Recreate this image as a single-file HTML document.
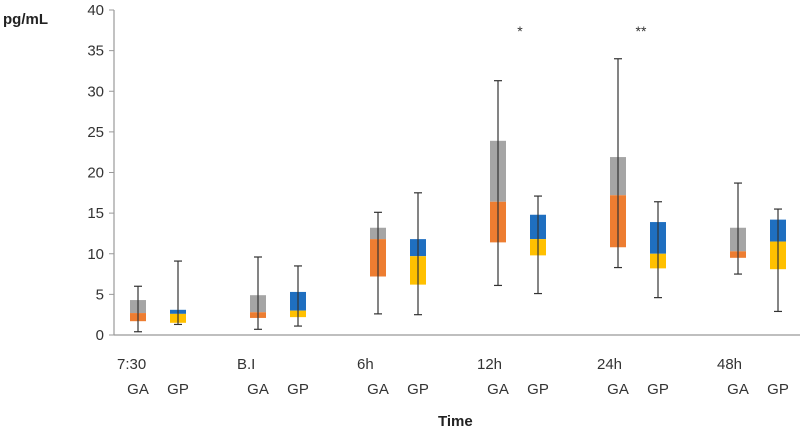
<!DOCTYPE html>
<html><head><meta charset="utf-8"><style>
body{margin:0;background:#fff;}
svg text{font-family:"Liberation Sans",sans-serif;}
</style></head><body>
<svg id="chart" width="800" height="433">
<text x="3" y="24" font-size="15" font-weight="bold" fill="#222">pg/mL</text>
<text x="438" y="426" font-size="15" font-weight="bold" fill="#222">Time</text>
<g id="axes"></g><g id="boxes"></g><g id="labels"></g>
</svg>
<script>
const groups=["7:30","B.I","6h","12h","24h","48h"];
const series=["GA","GP"];
const whiskerHigh=[[6.0,9.1],[9.6,8.5],[15.1,17.5],[31.3,17.1],[34.0,16.4],[18.7,15.5]];
const q3=[[4.3,3.1],[4.9,5.3],[13.2,11.8],[23.9,14.8],[21.9,13.9],[13.2,14.2]];
const medians=[[2.7,2.6],[2.8,3.0],[11.8,9.7],[16.4,11.8],[17.2,10.0],[10.3,11.5]];
const q1=[[1.7,1.5],[2.1,2.2],[7.2,6.2],[11.4,9.8],[10.8,8.2],[9.5,8.1]];
const whiskerLow=[[0.4,1.3],[0.7,1.1],[2.6,2.5],[6.1,5.1],[8.3,4.6],[7.5,2.9]];
const yTicks=[0,5,10,15,20,25,30,35,40];
const stars=["","","","*","**",""];
const NS="http://www.w3.org/2000/svg";
const y=v=>335-v*8.125;
const x=(g,s)=>138+g*120+s*40;
const upperColor=["#a5a5a5","#1f6fc0"],lowerColor=["#ed7d31","#ffc000"];
function mk(tag,attrs,parent){const e=document.createElementNS(NS,tag);for(const k in attrs)e.setAttribute(k,attrs[k]);parent.appendChild(e);return e;}
const ax=document.getElementById('axes'),bx=document.getElementById('boxes'),lb=document.getElementById('labels');
let l=mk('line',{x1:114,y1:y(40),x2:114,y2:y(0),stroke:'#999','stroke-width':1.2},ax);


l=mk('line',{x1:114,y1:y(0),x2:800,y2:y(0),stroke:'#999','stroke-width':1.2},ax);


yTicks.forEach(t=>{
 const tk=mk('line',{x1:109,y1:y(t),x2:114,y2:y(t),stroke:'#999'},ax);
 
 
 const tx=mk('text',{x:104,y:y(t)+5,'text-anchor':'end','font-size':15,fill:'#333'},ax);
 tx.textContent=t;
 
 
});
groups.forEach((gname,g)=>{
 const gl=mk('text',{x:x(g,0)-21,y:369,'font-size':15,fill:'#333'},lb);
 gl.textContent=gname;
 
 
 if(stars[g]){const st=mk('text',{x:x(g,0)+(g==4?23:22),y:36,'text-anchor':'middle','font-size':14,fill:'#333'},lb);
  st.textContent=stars[g];
  
  }
 series.forEach((s,si)=>{
  const cx=x(g,si),w=16;
  const sl=mk('text',{x:cx,y:394,'text-anchor':'middle','font-size':15,fill:'#333'},lb);
  sl.textContent=s;
  
  
  const up=mk('rect',{x:cx-w/2,y:y(q3[g][si]),width:w,height:y(medians[g][si])-y(q3[g][si]),fill:upperColor[si]},bx);
  
  
  const lo=mk('rect',{x:cx-w/2,y:y(medians[g][si]),width:w,height:y(q1[g][si])-y(medians[g][si]),fill:lowerColor[si]},bx);
  
  
  const wl=mk('line',{x1:cx,y1:y(whiskerHigh[g][si]),x2:cx,y2:y(whiskerLow[g][si]),stroke:'#333','stroke-width':1.2},bx);
  
  
  [whiskerHigh[g][si],whiskerLow[g][si]].forEach(v=>{
   const c=mk('line',{x1:cx-4,y1:y(v),x2:cx+4,y2:y(v),stroke:'#333','stroke-width':1.2},bx);
   
   
  });
 });
});
</script>
</body></html>
